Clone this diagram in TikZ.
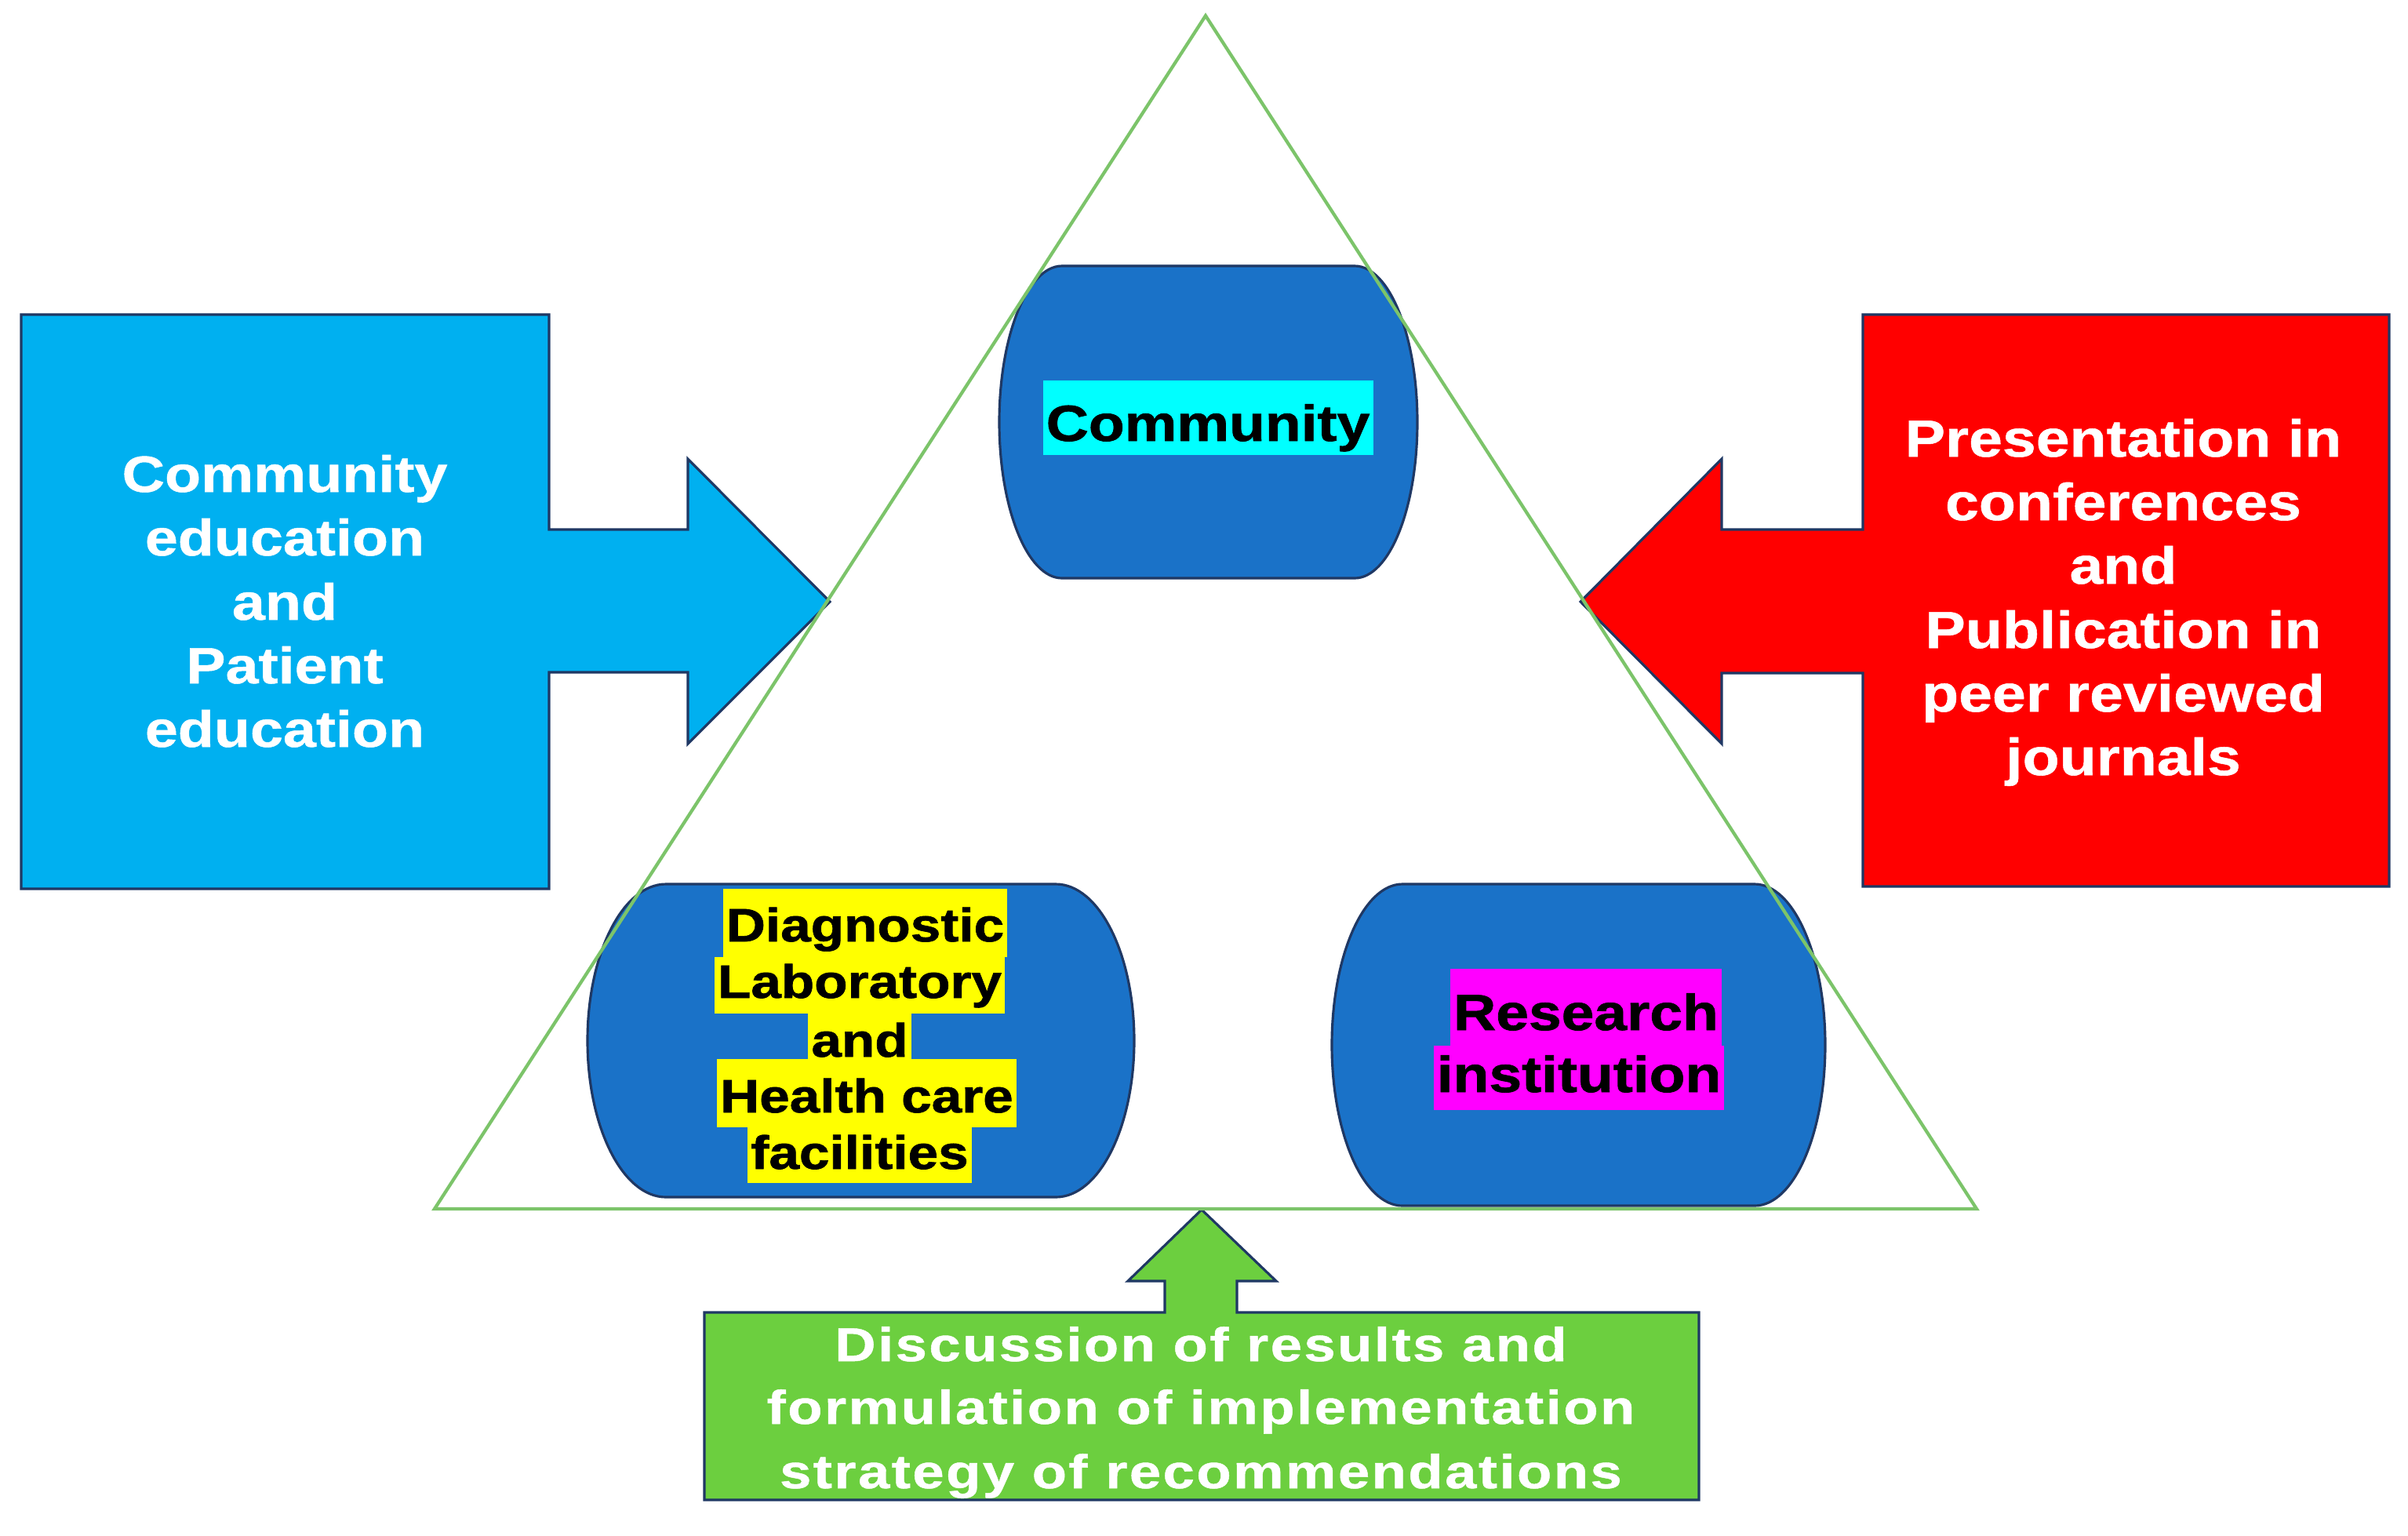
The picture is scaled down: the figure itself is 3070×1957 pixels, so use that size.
\documentclass[tikz,border=0pt]{standalone}
\usepackage{fontspec}
\newfontfamily\wfont[FakeStretch=1.16,FakeBold=0.8]{Liberation Sans Bold}
\newfontfamily\gfont[FakeStretch=1.2,LetterSpace=4,FakeBold=0.8]{Liberation Sans Bold}
\newfontfamily\kfont[FakeStretch=1.16,FakeBold=1.2]{Liberation Sans Bold}
\definecolor{lblue}{HTML}{00B0F0}
\definecolor{cred}{HTML}{FF0000}
\definecolor{cgreen}{HTML}{6CCF3F}
\definecolor{capblue}{HTML}{1A72C8}
\definecolor{navy}{HTML}{1F3864}
\definecolor{trigreen}{HTML}{7CC46A}
\definecolor{hlcyan}{HTML}{00FFFF}
\definecolor{hlyellow}{HTML}{FFFF00}
\definecolor{hlmagenta}{HTML}{FF00FF}
\tikzset{
  blockshape/.style={draw=navy, line width=0.9pt, line join=miter},
  capsule/.style={fill=capblue, draw=navy, line width=0.9pt},
  wtxt/.style={font=\wfont\fontsize{18.5}{22}\selectfont, text=white, anchor=base, inner sep=0pt},
  rtxt/.style={font=\wfont\fontsize{18.9}{22}\selectfont, text=white, anchor=base, inner sep=0pt},
  gtxt/.style={font=\gfont\fontsize{17.2}{22}\selectfont, text=white, anchor=base, inner sep=0pt},
  hl/.style={anchor=base, inner xsep=1.2pt, inner ysep=0pt, text=black},
  hlbig/.style={hl, font=\kfont\fontsize{18.4}{22}\selectfont},
  hlsmall/.style={hl, font=\kfont\fontsize{17}{20}\selectfont, fill=hlyellow},
}
\newcommand\mycapsule[5]{%
  \pgfmathsetmacro\capxa{#1+#5}%
  \pgfmathsetmacro\capxb{#3-#5}%
  \pgfmathsetmacro\capym{(#2+#4)/2}%
  \pgfmathsetmacro\capkb{0.5523*#5}%
  \pgfmathsetmacro\capkh{0.5523*(#4-#2)/2}%
  \filldraw[capsule] (\capxa,#2) -- (\capxb,#2)
    .. controls ({\capxb+\capkb},#2) and (#3,{\capym-\capkh}) .. (#3,\capym)
    .. controls (#3,{\capym+\capkh}) and ({\capxb+\capkb},#4) .. (\capxb,#4)
    -- (\capxa,#4)
    .. controls ({\capxa-\capkb},#4) and (#1,{\capym+\capkh}) .. (#1,\capym)
    .. controls (#1,{\capym-\capkh}) and ({\capxa-\capkb},#2) .. (\capxa,#2) -- cycle;}
\begin{document}
\begin{tikzpicture}[x=0.1mm,y=-0.1mm]
\useasboundingbox (0,0) rectangle (3070,1957);
\fill[white] (0,0) rectangle (3070,1957);

% left box with arrow
\filldraw[blockshape, fill=lblue] (27,401) -- (700,401) -- (700,675) -- (877,675) -- (877,585)
  -- (1058,767) -- (877,948) -- (877,857) -- (700,857) -- (700,1133) -- (27,1133) -- cycle;
% right box with arrow
\filldraw[blockshape, fill=cred] (3046,401) -- (2375,401) -- (2375,675) -- (2195,675) -- (2195,585)
  -- (2015,767) -- (2195,948) -- (2195,858) -- (2375,858) -- (2375,1130) -- (3046,1130) -- cycle;
% bottom box with arrow
\filldraw[blockshape, fill=cgreen] (898,1673) -- (1485,1673) -- (1485,1633) -- (1438,1633)
  -- (1532,1542) -- (1627,1633) -- (1577,1633) -- (1577,1673) -- (2166,1673) -- (2166,1912)
  -- (898,1912) -- cycle;

% capsules
\mycapsule{1274}{339}{1807}{737}{80}
\mycapsule{749}{1127}{1446}{1526}{100}
\mycapsule{1698}{1127}{2327}{1537}{90}

% triangle
\draw[trigreen, line width=1.2pt, line join=miter] (1537,20) -- (554,1541) -- (2520,1541) -- cycle;

% highlighted labels
\node[hlbig, fill=hlcyan, text height=21.9pt, text depth=5.1pt] (com) at (1540,562) {Community};

\node[hlsmall, text height=19.1pt, text depth=5.7pt] (d1) at (1103,1200) {Diagnostic\hspace{0.28em}};
\node[hlsmall, text height=14.8pt, text depth=5.7pt] (d2) at (1096,1272) {Laboratory};
\node[hlsmall, text height=15.6pt, text depth=0.9pt] (d3) at (1096,1347) {and};
\node[hlsmall, text height=19.3pt, text depth=5.4pt] (d4) at (1105,1418) {Health care\hspace{0.28em}};
\node[hlsmall, text height=15.1pt, text depth=5.1pt] (d5) at (1096,1490) {facilities};

\node[hlbig, fill=hlmagenta, text height=22.2pt, text depth=5.7pt] (r1) at (2022,1313) {Research\hspace{0.28em}};
\node[hlbig, fill=hlmagenta, text height=16.8pt, text depth=6.5pt] (r2) at (2013,1392) {institution};

% left text
\node[wtxt] (l1) at (363,627) {Community};
\node[wtxt] (l2) at (363,708) {education};
\node[wtxt] (l3) at (363,790) {and};
\node[wtxt] (l4) at (363,871) {Patient};
\node[wtxt] (l5) at (363,952) {education};

% right text
\node[rtxt] (p1) at (2707,582) {Presentation in};
\node[rtxt] (p2) at (2707,663) {conferences};
\node[rtxt] (p3) at (2707,744) {and};
\node[rtxt] (p4) at (2707,826) {Publication in};
\node[rtxt] (p5) at (2707,907) {peer reviewed};
\node[rtxt] (p6) at (2707,988) {journals};

% bottom text
\node[gtxt] (g1) at (1531,1735) {Discussion of results and};
\node[gtxt] (g2) at (1531,1815) {formulation of implementation};
\node[gtxt] (g3) at (1531,1897) {strategy of recommendations};
\end{tikzpicture}
\end{document}
